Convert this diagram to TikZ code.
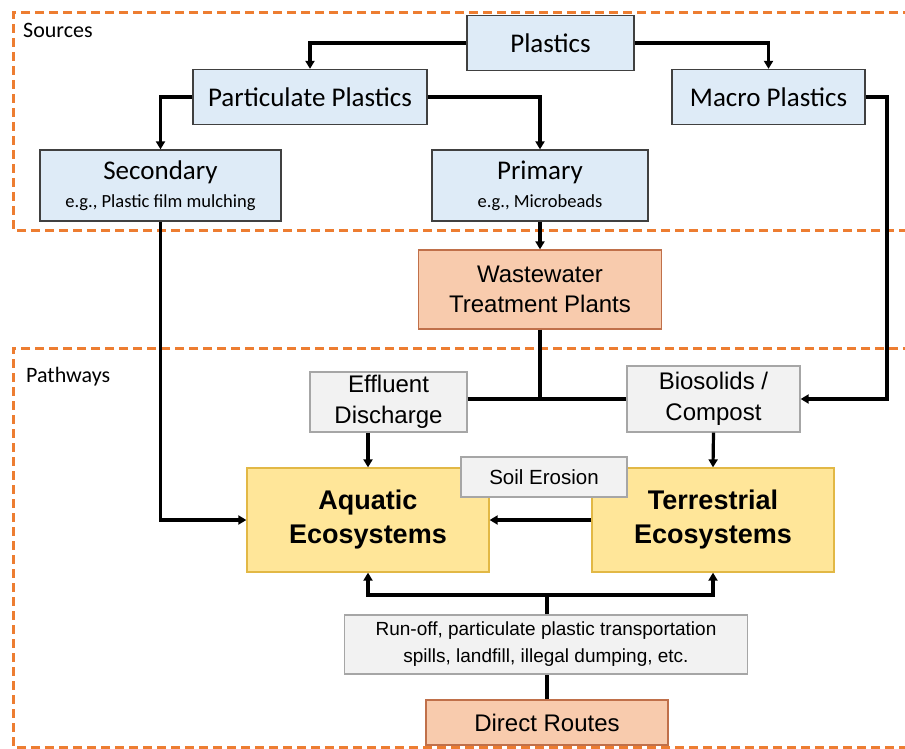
\documentclass[tikz,border=0pt]{standalone}
\usepackage{fontspec}
\setmainfont{Liberation Sans}
\newfontfamily\calfont{Carlito}
\newfontfamily\arfont{Liberation Sans}
\usetikzlibrary{arrows.meta}
\definecolor{blfill}{HTML}{DEEBF7}
\definecolor{bldraw}{HTML}{404040}
\definecolor{safill}{HTML}{F8CBAD}
\definecolor{sadraw}{HTML}{C0704A}
\definecolor{yefill}{HTML}{FFE699}
\definecolor{yedraw}{HTML}{E2B845}
\definecolor{grfill}{HTML}{F2F2F2}
\definecolor{grdraw}{HTML}{A6A6A6}
\definecolor{dashor}{HTML}{ED7D31}
\tikzset{
  box/.style={rectangle, inner sep=0pt, align=center, line width=1.3pt},
  srcbox/.style={box, fill=blfill, draw=bldraw, font=\calfont\fontsize{27}{27}\selectfont},
  salbox/.style={box, fill=safill, draw=sadraw, font=\arfont\fontsize{24}{30}\selectfont},
  yelbox/.style={box, fill=yefill, draw=yedraw, font=\arfont\bfseries\fontsize{27}{34}\selectfont},
  grybox/.style={box, fill=grfill, draw=grdraw, font=\arfont\fontsize{24}{31}\selectfont},
  conn/.style={line width=3.2pt, line join=miter},
  arr/.style={conn, -{Triangle[length=8pt,width=9pt]}},
  zone/.style={draw=dashor, line width=3pt, dash pattern=on 9pt off 5pt},
  zlabel/.style={anchor=base west, inner sep=0pt, font=\calfont\fontsize{22}{22}\selectfont}
}
\begin{document}
\begin{tikzpicture}[x=1pt,y=-1pt]
\useasboundingbox (0,0) rectangle (905,749);
\clip (0,0) rectangle (905,749);
% zones
\draw[zone] (912,13) -- (13,13) -- (13,230) -- (912,230);
\draw[zone] (912,348) -- (13,348) -- (13,747) -- (912,747);
\node[zlabel] (srclab) at (23,38) {Sources};
\node[zlabel] (pathlab) at (26,382) {Pathways};
% source boxes
\node[srcbox, minimum width=167pt, minimum height=55pt] (plastics) at (550.5,43) {Plastics};
\node[srcbox, minimum width=234pt, minimum height=55pt] (partic) at (310,97) {Particulate Plastics};
\node[srcbox, minimum width=193pt, minimum height=55pt] (macro) at (768.5,97) {Macro Plastics};
\node[srcbox, minimum width=241pt, minimum height=71pt] (second) at (160.5,185.5) {Secondary\\[1pt]{\fontsize{18.5}{20}\selectfont e.g., Plastic film mulching}};
\node[srcbox, minimum width=216pt, minimum height=71pt] (primary) at (540,185.5) {Primary\\[1pt]{\fontsize{18.5}{20}\selectfont e.g., Microbeads}};
% wastewater
\node[salbox, minimum width=243pt, minimum height=79pt] (wwtp) at (540,289.5) {Wastewater\\Treatment Plants};
% pathway boxes
\node[grybox, minimum width=157pt, minimum height=60pt] (effl) at (388.5,402) {Effluent\\Discharge};
\node[grybox, minimum width=173pt, minimum height=66pt] (bios) at (713.5,399) {Biosolids /\\Compost};
\node[yelbox, minimum width=242pt, minimum height=104pt] (aqua) at (368,520) {Aquatic\\Ecosystems};
\node[yelbox, minimum width=242pt, minimum height=104pt] (terr) at (713,520) {Terrestrial\\Ecosystems};
\node[grybox, minimum width=166pt, minimum height=40pt, font=\arfont\fontsize{20.5}{24}\selectfont] (soil) at (544,477) {Soil Erosion};
\node[grybox, minimum width=403pt, minimum height=59pt, font=\arfont\fontsize{19}{27}\selectfont] (runoff) at (546,644.5) {Run-off, particulate plastic transportation\\spills, landfill, illegal dumping, etc.};
\node[salbox, minimum width=242pt, minimum height=45pt] (direct) at (547,722.5) {Direct Routes};
% connectors
\draw[arr] (plastics.west) -| (partic.north);
\draw[arr] (plastics.east) -| (macro.north);
\draw[arr] (partic.west) -| (second.north);
\draw[arr] (partic.east) -| (primary.north);
\coordinate (mturn) at (887,97);
\draw[arr] (macro.east) -- (mturn) |- (bios.east);
\draw[arr] (second.south) |- (aqua.west);
\draw[arr] (primary.south) -- (wwtp.north);
\coordinate (jw) at (540,399);
\draw[conn] (wwtp.south) -- (jw);
\draw[conn] (jw -| effl.east) -- (jw -| bios.west);
\draw[arr] (aqua.north |- effl.south) -- (aqua.north);
\draw[arr] (bios.south) -- (terr.north);
\draw[arr] (terr.west) -- (aqua.east);
\coordinate (jr) at (547,595);
\draw[conn] (runoff.north -| jr) -- (jr);
\draw[arr] (jr) -| (aqua.south);
\draw[arr] (jr) -| (terr.south);
\draw[conn] (direct.north) -- (runoff.south -| direct.north);
\end{tikzpicture}
\end{document}
